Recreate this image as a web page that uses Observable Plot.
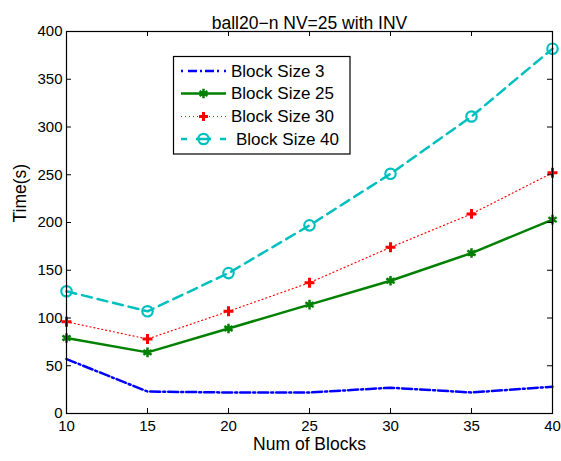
<!DOCTYPE html>
<html>
<head>
<meta charset="utf-8">
<script src="https://cdn.jsdelivr.net/npm/d3@7"></script>
<script src="https://cdn.jsdelivr.net/npm/@observablehq/plot@0.6"></script>
<style>
  html, body { margin: 0; padding: 0; background: #fff; }
  #chart { position: relative; width: 561px; height: 461px; }
  svg { font-family: "Liberation Sans", Arial, sans-serif; }
</style>
</head>
<body>
<div id="chart"></div>
<script>
const title = "ball20\u2212n NV=25 with INV";
const xLabel = "Num of Blocks";
const yLabel = "Time(s)";
const numBlocks = [10, 15, 20, 25, 30, 35, 40];
const xTicks = [10, 15, 20, 25, 30, 35, 40];
const yTicks = [0, 50, 100, 150, 200, 250, 300, 350, 400];
const seriesNames = ["Block Size 3", "Block Size 25", "Block Size 30", "Block Size 40"];
const size3  = [57, 23, 22, 22, 27, 22, 28];
const size25 = [79, 64, 89, 114, 139, 168, 203];
const size30 = [96, 78, 107, 137, 174, 209, 252];
const size40 = [128, 107, 147, 197, 251, 311, 382];

const W = 561, H = 461;
const mL = 66, mR = 9, mT = 31, mB = 48;
const plotW = W - mL - mR, plotH = H - mT - mB;

const styles = [
  {color: "#0000ff", width: 2.5, dash: "10,3,2,3", symbol: null},
  {color: "#008000", width: 2.5, dash: null, symbol: "asterisk"},
  {color: "#ff0000", width: 1.2, dash: "1,3", symbol: "plus"},
  {color: "#00bfbf", width: 2.5, dash: "10,6", symbol: "circle"}
];
const allSeries = [size3, size25, size30, size40];
const tables = allSeries.map((vals, i) => numBlocks.map((n, j) => ({n, t: vals[j], s: seriesNames[i]})));

const marks = [];
tables.forEach((tbl, i) => {
  const st = styles[i];
  marks.push(Plot.line(tbl, {x: "n", y: "t", stroke: st.color, strokeWidth: st.width, strokeDasharray: st.dash || undefined, strokeLinejoin: "miter"}));
});
// markers
marks.push(Plot.dot(tables[1], {x: "n", y: "t", symbol: "asterisk", r: 4.5, stroke: styles[1].color, strokeWidth: 2.5}));
marks.push(Plot.dot(tables[2], {x: "n", y: "t", symbol: "plus", r: 3.3, stroke: styles[2].color, strokeWidth: 3}));
marks.push(Plot.dot(tables[3], {x: "n", y: "t", symbol: "circle", r: 5.2, stroke: styles[3].color, strokeWidth: 2.2, fill: "none"}));

const chart = Plot.plot({
  width: W, height: H,
  marginLeft: mL, marginRight: mR, marginTop: mT, marginBottom: mB,
  style: {fontFamily: "Liberation Sans, Arial, sans-serif", background: "#fff", overflow: "visible"},
  x: {domain: [10, 40], axis: null},
  y: {domain: [0, 400], axis: null},
  marks: [
    ...marks,
    // inside ticks on all four sides
    Plot.tickX(xTicks, {x: d => d, insetTop: plotH - 5, stroke: "#000", strokeWidth: 1}),
    Plot.tickX(xTicks, {x: d => d, insetBottom: plotH - 5, stroke: "#000", strokeWidth: 1}),
    Plot.tickY(yTicks, {y: d => d, insetRight: plotW - 5, stroke: "#000", strokeWidth: 1}),
    Plot.tickY(yTicks, {y: d => d, insetLeft: plotW - 5, stroke: "#000", strokeWidth: 1}),
    Plot.axisX(xTicks, {tickSize: 0, tickPadding: 7, fontSize: 15, tickFormat: d => String(d), fill: "#000", label: null}),
    Plot.axisY(yTicks, {tickSize: 0, tickPadding: 4, fontSize: 15, tickFormat: d => String(d), fill: "#000", label: null}),
    Plot.frame({stroke: "#000", strokeWidth: 1.2}),
    Plot.text([title], {frameAnchor: "top", dy: -15, fontSize: 17.5, fill: "#000"}),
    Plot.text([xLabel], {frameAnchor: "bottom", dy: 36, fontSize: 17.5, fill: "#000"}),
    Plot.text([yLabel], {frameAnchor: "left", dx: -46, rotate: -90, fontSize: 17.5, fill: "#000"})
  ]
});
document.getElementById("chart").appendChild(chart);

// Legend (inside plot area, upper left)
const svg = d3.select(chart);
const lg = svg.append("g").attr("class", "legend").attr("text-anchor", "start");
const bx = 173, by = 56, bw = 176.5, bh = 97.5;
lg.append("rect").attr("x", bx + 0.5).attr("y", by + 0.5).attr("width", bw).attr("height", bh)
  .attr("fill", "#fff").attr("stroke", "#000").attr("stroke-width", 1.2);
const rowY = [71, 93.5, 116.5, 139];
const textX = [231, 231, 231, 236];
seriesNames.forEach((name, i) => {
  const st = styles[i];
  const y = rowY[i];
  lg.append("line").attr("x1", 181).attr("x2", 226).attr("y1", y).attr("y2", y)
    .attr("stroke", st.color).attr("stroke-width", st.width)
    .attr("stroke-dasharray", i === 3 ? "6,9,15,9,6" : (i === 0 ? "2,5,9,3,2,3,9,3" : st.dash));
  const cx = 203.5;
  if (st.symbol === "asterisk") {
    lg.append("path").attr("d", d3.symbol(d3.symbolAsterisk, 60)()).attr("transform", `translate(${cx},${y})`)
      .attr("stroke", st.color).attr("stroke-width", 2.5).attr("fill", "none");
  } else if (st.symbol === "plus") {
    lg.append("path").attr("d", "M-4.5,0H4.5M0,-4.5V4.5").attr("transform", `translate(${cx},${y})`)
      .attr("stroke", st.color).attr("stroke-width", 3);
  } else if (st.symbol === "circle") {
    lg.append("circle").attr("cx", cx).attr("cy", y).attr("r", 5.2)
      .attr("stroke", st.color).attr("stroke-width", 2.2).attr("fill", "none");
  }
  lg.append("text").attr("x", textX[i]).attr("y", y).attr("dy", "0.35em")
    .attr("font-size", 17).attr("fill", "#000").text(name);
});
</script>
</body>
</html>
